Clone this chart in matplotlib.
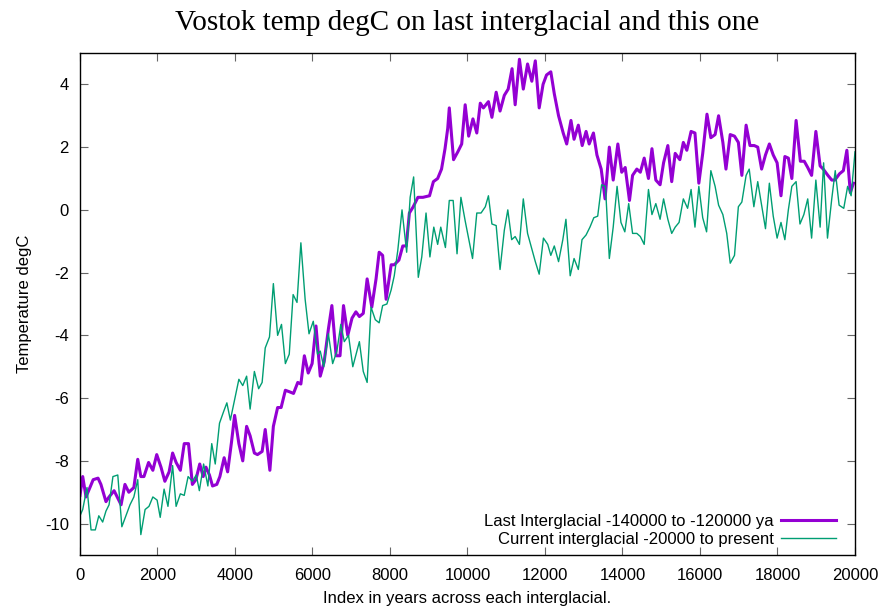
import matplotlib

matplotlib.use("Agg")
import matplotlib.pyplot as plt

# Vostok temperature anomaly, both interglacials re-indexed to 0..20000 years
last_years = [
    0, 70, 155, 340, 465, 540, 670, 750, 880, 1060,
    1160, 1260, 1390, 1490, 1570, 1650, 1770, 1880, 1980, 2090,
    2190, 2300, 2390, 2480, 2590, 2690, 2800, 2900, 2990, 3090,
    3180, 3250, 3340, 3420, 3530, 3610, 3720, 3810, 3910, 3990,
    4100, 4200, 4300, 4390, 4500, 4580, 4700, 4780, 4900, 4990,
    5100, 5190, 5300, 5410, 5510, 5620, 5700, 5790, 5890, 5990,
    6090, 6200, 6300, 6410, 6500, 6610, 6710, 6800, 6910, 7020,
    7120, 7210, 7310, 7410, 7530, 7640, 7720, 7810, 7900, 8030,
    8110, 8230, 8330, 8420, 8500, 8600, 8720, 8850, 9020, 9120,
    9230, 9330, 9420, 9490, 9530, 9640, 9750, 9850, 9940, 10030,
    10140, 10240, 10330, 10410, 10540, 10630, 10740, 10840, 10950, 11050,
    11150, 11230, 11340, 11440, 11550, 11660, 11750, 11850, 11950, 12040,
    12150, 12240, 12350, 12470, 12560, 12670, 12750, 12860, 12960, 13060,
    13140, 13250, 13340, 13450, 13550, 13660, 13760, 13880, 13980, 14070,
    14180, 14260, 14370, 14460, 14560, 14670, 14760, 14860, 14970, 15060,
    15170, 15270, 15360, 15480, 15570, 15660, 15770, 15870, 15970, 16070,
    16180, 16280, 16390, 16480, 16590, 16670, 16780, 16890, 16990, 17080,
    17190, 17290, 17400, 17490, 17590, 17690, 17790, 17890, 17990, 18090,
    18190, 18280, 18370, 18480, 18590, 18690, 18780, 18880, 18990, 19100,
    19180, 19300, 19400, 19480, 19600, 19700, 19790, 19880, 19960,
]
last_temp = [
    -9.1, -8.5, -9.15, -8.6, -8.55, -8.75, -9.3, -9.15, -8.95, -9.4,
    -8.75, -9.0, -8.85, -7.95, -8.5, -8.5, -8.05, -8.3, -7.8, -8.2,
    -8.65, -8.35, -7.75, -8.05, -8.3, -7.45, -7.45, -8.75, -8.6, -8.1,
    -8.5, -8.2, -8.45, -8.8, -8.75, -8.5, -7.9, -8.35, -7.4, -6.55,
    -7.45, -8.0, -6.9, -7.2, -7.75, -7.8, -7.7, -7.0, -8.3, -6.9,
    -6.3, -6.3, -5.75, -5.8, -5.85, -5.5, -5.55, -4.65, -5.2, -4.9,
    -3.7, -5.3, -4.85, -3.8, -3.05, -4.65, -4.65, -3.05, -4.0, -3.45,
    -3.25, -3.4, -3.3, -2.2, -3.1, -2.2, -1.35, -1.45, -2.85, -1.75,
    -1.75, -1.6, -1.15, -1.15, -0.1, 0.1, 0.4, 0.4, 0.45, 0.9,
    1.0, 1.3, 1.95, 2.6, 3.25, 1.6, 1.85, 2.1, 3.35, 2.35,
    2.9, 2.45, 3.4, 3.25, 3.45, 2.95, 3.75, 3.15, 3.65, 3.85,
    4.5, 3.35, 4.8, 3.85, 4.65, 4.1, 4.75, 3.25, 4.0, 4.3,
    4.4, 3.7, 3.0, 2.45, 2.1, 2.85, 2.25, 2.7, 2.05, 2.5,
    2.1, 2.45, 1.75, 1.3, 0.35, 2.0, 0.95, 2.1, 1.2, 1.35,
    0.3, 1.1, 1.3, 1.2, 1.65, 1.0, 1.95, 0.95, 0.8, 1.5,
    2.05, 0.9, 1.8, 1.6, 2.15, 1.9, 2.5, 2.45, 0.85, 1.8,
    3.05, 2.3, 2.4, 3.0, 2.15, 1.3, 2.4, 2.35, 2.15, 1.1,
    2.7, 2.05, 2.05, 2.0, 1.3, 1.75, 2.1, 1.75, 1.5, 0.45,
    1.7, 1.65, 1.0, 2.85, 1.55, 1.55, 1.35, 1.1, 2.5, 1.4,
    1.3, 1.1, 0.95, 0.95, 1.15, 1.25, 1.9, 0.55, 0.85,
]

curr_years = [
    0, 70, 180, 285, 395, 485, 585, 670, 750, 850,
    975, 1080, 1185, 1290, 1390, 1490, 1570, 1680, 1780, 1880,
    1990, 2070, 2170, 2270, 2390, 2480, 2590, 2690, 2790, 2900,
    3000, 3080, 3190, 3300, 3400, 3490, 3600, 3700, 3790, 3880,
    3990, 4100, 4200, 4300, 4390, 4500, 4610, 4700, 4780, 4890,
    4990, 5100, 5200, 5300, 5400, 5500, 5600, 5700, 5810, 5910,
    6020, 6130, 6200, 6290, 6410, 6520, 6630, 6730, 6820, 6930,
    7040, 7210, 7310, 7410, 7510, 7620, 7720, 7810, 7920, 8030,
    8110, 8200, 8310, 8430, 8520, 8610, 8730, 8820, 8930, 9030,
    9130, 9230, 9310, 9430, 9530, 9630, 9730, 9830, 9940, 10130,
    10240, 10350, 10460, 10540, 10630, 10740, 10840, 10950, 11040, 11140,
    11230, 11340, 11440, 11550, 11660, 11750, 11850, 11960, 12070, 12150,
    12240, 12350, 12460, 12540, 12650, 12750, 12860, 12955, 13060, 13160,
    13260, 13360, 13460, 13560, 13660, 13760, 13860, 13960, 14060, 14160,
    14260, 14370, 14460, 14560, 14670, 14760, 14860, 14970, 15060, 15170,
    15270, 15360, 15460, 15570, 15680, 15770, 15870, 15970, 16070, 16170,
    16280, 16390, 16480, 16590, 16690, 16780, 16890, 16990, 17080, 17190,
    17270, 17390, 17490, 17590, 17690, 17790, 17890, 17990, 18090, 18190,
    18280, 18370, 18480, 18580, 18680, 18780, 18880, 18990, 19100, 19190,
    19290, 19400, 19490, 19590, 19710, 19810, 19900, 20000,
]
curr_temp = [
    -9.75, -9.55, -8.85, -10.2, -10.2, -9.75, -9.95, -9.6, -9.4, -8.5,
    -8.45, -10.1, -9.75, -9.4, -9.15, -8.6, -10.35, -9.55, -9.45, -9.15,
    -9.25, -9.8, -8.9, -9.45, -8.15, -9.45, -9.05, -9.1, -8.5, -8.65,
    -8.45, -8.95, -8.1, -8.8, -7.45, -8.1, -6.8, -6.45, -6.15, -6.7,
    -6.05, -5.4, -5.6, -5.3, -6.35, -5.15, -5.7, -5.5, -4.4, -4.05,
    -2.35, -4.0, -3.65, -4.9, -4.6, -2.7, -2.95, -1.05, -2.85, -3.95,
    -3.55, -4.6, -4.5, -5.0, -3.95, -4.9, -4.5, -3.65, -4.2, -4.0,
    -5.0, -4.2, -5.15, -5.5, -3.1, -3.5, -3.6, -3.05, -3.0, -2.55,
    -2.1, -1.3, 0.0, -1.35, 0.4, 1.05, -2.15, -1.5, -0.1, -1.5,
    -0.55, -1.1, -0.55, -1.2, 0.3, 0.3, -1.4, 0.4, -0.35, -1.55,
    -0.1, -0.1, 0.1, 0.45, -0.45, -0.5, -1.9, -0.65, 0.0, -0.95,
    -0.85, -1.1, 0.35, -0.75, -1.25, -1.65, -2.05, -0.9, -1.1, -1.45,
    -1.15, -1.65, -0.95, -0.3, -2.1, -1.55, -1.9, -0.95, -0.8, -0.55,
    -0.25, -0.2, 0.8, 0.75, -1.55, -0.55, 0.75, -0.4, -0.7, 0.2,
    -0.75, -0.75, -0.85, -1.1, 0.65, -0.15, 0.2, -0.3, 0.35, -0.3,
    -0.75, -0.55, -0.4, 0.35, 0.05, 0.65, -0.55, 0.75, -0.25, -0.7,
    1.25, 0.75, 0.15, -0.15, -0.75, -1.7, -1.45, 0.1, 0.25, 1.1,
    1.3, 0.1, 0.9, 0.15, -0.6, 0.85, -0.2, -0.9, -0.4, -0.95,
    0.0, 0.75, 0.9, -0.45, -0.15, 0.35, -0.9, 0.95, -0.55, 1.5,
    -0.9, 0.35, 1.25, 0.15, 0.05, 0.75, 0.45, 1.85,
]

x_ticks = list(range(0, 20001, 2000))
y_ticks = list(range(-10, 5, 2))

last_label = "Last Interglacial -140000 to -120000 ya"
curr_label = "Current interglacial -20000 to present"

plt.rcParams["font.family"] = ["Liberation Sans", "DejaVu Sans"]
plt.rcParams["axes.unicode_minus"] = False  # gnuplot prints a plain hyphen

fig = plt.figure(figsize=(8.87, 6.08), dpi=100)
ax = fig.add_axes([80 / 887, 53 / 608, 775 / 887, 502 / 608])

# gnuplot default line colours: dark-violet, then #009e73
ax.plot(last_years, last_temp, color="#9400d3", lw=2.2, label=last_label)
ax.plot(curr_years, curr_temp, color="#009e73", lw=1.0, label=curr_label)

ax.set_xlim(0, 20000)
ax.set_ylim(-11, 5)
ax.set_xticks(x_ticks)
ax.set_yticks(y_ticks)
ax.tick_params(direction="in", top=True, right=True, length=5.8, width=0.8,
               color="#666666", labelsize=12)
ax.tick_params(axis="x", pad=9)
ax.tick_params(axis="y", pad=8)
for s in ax.spines.values():
    s.set_linewidth(1.0)

ax.set_xlabel("Index in years across each interglacial.", fontsize=12, labelpad=6)
ax.set_ylabel("Temperature degC", fontsize=12, labelpad=9)

fig.text(467.5 / 887, 1 - 30 / 608, "Vostok temp degC on last interglacial and this one",
         ha="center", va="baseline", fontsize=21, family=["Liberation Serif", "DejaVu Serif"])

ax.legend(loc="lower right", bbox_to_anchor=(1 - 11 / 775, 0), frameon=False,
          markerfirst=False, fontsize=12, handlelength=3.3, handletextpad=0.4,
          labelspacing=0.15, borderpad=0.3, borderaxespad=0.2)

fig.savefig("out.png")
plt.close(fig)
